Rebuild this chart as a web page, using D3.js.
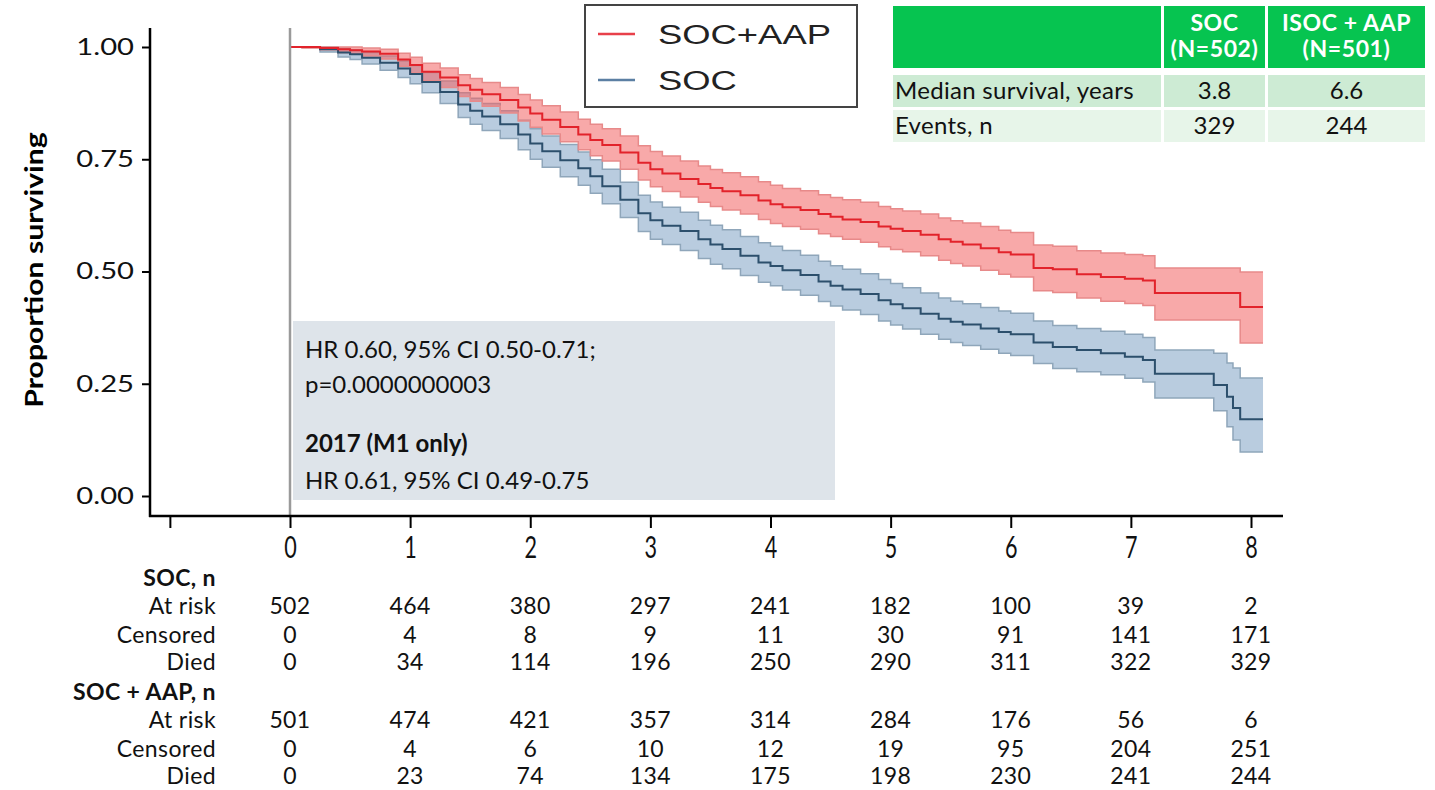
<!DOCTYPE html>
<html>
<head>
<meta charset="utf-8">
<script src="https://cdn.jsdelivr.net/npm/d3@7"></script>
<style>
  body { margin: 0; background: #fff; }
  svg { display: block; font-family: Lato, "Open Sans", sans-serif; }
</style>
</head>
<body>
<svg width="1435" height="790"></svg>
<script>
// time points (years) for the KM step curves
var times = [0, 0.1, 0.25, 0.4, 0.5, 0.6, 0.75, 0.9, 1.0, 1.1, 1.25, 1.4, 1.5, 1.6, 1.75, 1.9,
  2.0, 2.1, 2.25, 2.4, 2.5, 2.6, 2.75, 2.9, 3.0, 3.1, 3.25, 3.4, 3.5, 3.6, 3.75, 3.9,
  4.0, 4.1, 4.25, 4.4, 4.5, 4.6, 4.75, 4.9, 5.0, 5.1, 5.25, 5.4, 5.5, 5.6, 5.75, 5.9,
  6.0, 6.19, 6.35, 6.55, 6.75, 6.95, 7.1, 7.2, 7.5, 7.69, 7.8, 7.85, 7.91, 8.1];

// SOC + AAP
var aapSurv = [1.000, 1.000, 0.998, 0.995, 0.993, 0.990, 0.985, 0.972, 0.960, 0.945, 0.932, 0.915, 0.905, 0.895, 0.882, 0.865,
  0.852, 0.838, 0.822, 0.805, 0.793, 0.782, 0.765, 0.742, 0.728, 0.718, 0.706, 0.695, 0.686, 0.679, 0.670, 0.658,
  0.650, 0.643, 0.637, 0.628, 0.622, 0.616, 0.610, 0.600, 0.595, 0.590, 0.582, 0.572, 0.566, 0.560, 0.552, 0.543,
  0.538, 0.508, 0.505, 0.494, 0.488, 0.484, 0.480, 0.452, 0.452, 0.452, 0.452, 0.452, 0.421, 0.421];
var aapHi = [1.000, 1.000, 1.000, 1.000, 1.000, 0.998, 0.995, 0.986, 0.977, 0.964, 0.953, 0.938, 0.930, 0.921, 0.910, 0.894,
  0.882, 0.869, 0.855, 0.839, 0.828, 0.818, 0.802, 0.780, 0.767, 0.757, 0.746, 0.735, 0.727, 0.720, 0.711, 0.700,
  0.692, 0.685, 0.680, 0.671, 0.665, 0.660, 0.654, 0.645, 0.640, 0.635, 0.628, 0.619, 0.613, 0.608, 0.600, 0.592,
  0.587, 0.559, 0.556, 0.546, 0.541, 0.538, 0.535, 0.508, 0.508, 0.508, 0.508, 0.508, 0.499, 0.499];
var aapLo = [1.000, 0.998, 0.994, 0.988, 0.984, 0.980, 0.973, 0.957, 0.942, 0.925, 0.910, 0.890, 0.879, 0.868, 0.853, 0.835,
  0.821, 0.806, 0.789, 0.771, 0.758, 0.746, 0.728, 0.704, 0.689, 0.678, 0.666, 0.654, 0.645, 0.637, 0.628, 0.616,
  0.607, 0.600, 0.594, 0.584, 0.578, 0.572, 0.565, 0.555, 0.549, 0.544, 0.535, 0.525, 0.518, 0.512, 0.503, 0.494,
  0.488, 0.457, 0.453, 0.441, 0.434, 0.429, 0.424, 0.392, 0.392, 0.392, 0.392, 0.392, 0.341, 0.341];

// SOC
var socSurv = [1.000, 1.000, 0.995, 0.988, 0.984, 0.976, 0.965, 0.952, 0.940, 0.922, 0.900, 0.872, 0.858, 0.845, 0.828, 0.805,
  0.785, 0.768, 0.748, 0.730, 0.712, 0.690, 0.660, 0.630, 0.614, 0.602, 0.590, 0.572, 0.560, 0.550, 0.535, 0.520,
  0.512, 0.503, 0.492, 0.478, 0.468, 0.460, 0.450, 0.436, 0.427, 0.418, 0.406, 0.395, 0.388, 0.382, 0.373, 0.365,
  0.360, 0.342, 0.332, 0.325, 0.318, 0.310, 0.303, 0.272, 0.272, 0.247, 0.221, 0.196, 0.171, 0.171];
var socHi = [1.000, 1.000, 1.000, 0.997, 0.994, 0.988, 0.980, 0.969, 0.959, 0.943, 0.924, 0.898, 0.886, 0.874, 0.858, 0.837,
  0.818, 0.802, 0.783, 0.766, 0.749, 0.728, 0.699, 0.670, 0.655, 0.643, 0.632, 0.614, 0.603, 0.593, 0.578, 0.564,
  0.556, 0.547, 0.536, 0.523, 0.513, 0.505, 0.495, 0.482, 0.473, 0.464, 0.452, 0.441, 0.434, 0.428, 0.420, 0.412,
  0.407, 0.390, 0.380, 0.373, 0.367, 0.360, 0.353, 0.325, 0.325, 0.318, 0.296, 0.285, 0.263, 0.263];
var socLo = [1.000, 0.999, 0.989, 0.978, 0.972, 0.962, 0.948, 0.932, 0.918, 0.898, 0.874, 0.843, 0.828, 0.814, 0.796, 0.771,
  0.750, 0.732, 0.711, 0.692, 0.674, 0.651, 0.620, 0.589, 0.572, 0.560, 0.547, 0.529, 0.516, 0.506, 0.491, 0.476,
  0.468, 0.459, 0.447, 0.433, 0.423, 0.414, 0.404, 0.390, 0.381, 0.372, 0.360, 0.349, 0.342, 0.335, 0.327, 0.318,
  0.313, 0.295, 0.284, 0.277, 0.270, 0.262, 0.254, 0.218, 0.218, 0.190, 0.154, 0.125, 0.098, 0.098];

// numbers at risk table
var tableYears = [0, 1, 2, 3, 4, 5, 6, 7, 8];
var socAtRisk = [502, 464, 380, 297, 241, 182, 100, 39, 2];
var socCensored = [0, 4, 8, 9, 11, 30, 91, 141, 171];
var socDied = [0, 34, 114, 196, 250, 290, 311, 322, 329];
var aapAtRisk = [501, 474, 421, 357, 314, 284, 176, 56, 6];
var aapCensored = [0, 4, 6, 10, 12, 19, 95, 204, 251];
var aapDied = [0, 23, 74, 134, 175, 198, 230, 241, 244];

// summary table (top right)
var sumHeader = ["", "SOC\n(N=502)", "ISOC + AAP\n(N=501)"];
var sumRows = [["Median survival, years", "3.8", "6.6"], ["Events, n", "329", "244"]];

var xTicks = [-1, 0, 1, 2, 3, 4, 5, 6, 7, 8];
var yTicks = [0, 0.25, 0.5, 0.75, 1];

var svg = d3.select("svg");

var x = d3.scaleLinear().domain([0, 8]).range([290, 1251]);
var y = d3.scaleLinear().domain([0, 1]).range([496, 47]);

var aapData = times.map((t, i) => ({t: t, s: aapSurv[i], lo: aapLo[i], hi: aapHi[i]}));
var socData = times.map((t, i) => ({t: t, s: socSurv[i], lo: socLo[i], hi: socHi[i]}));

// text box with hazard ratio
svg.append("rect")
    .attr("x", 293).attr("y", 321)
    .attr("width", 542).attr("height", 179)
    .attr("fill", "#dee4ea");

var box = svg.append("g").style("font-size", "24px").style("fill", "#111");
box.append("text").attr("x", 305).attr("y", 358).text("HR 0.60, 95% CI 0.50-0.71;");
box.append("text").attr("x", 305).attr("y", 393).text("p=0.0000000003");
box.append("text").attr("x", 305).attr("y", 452).style("font-weight", "bold").text("2017 (M1 only)");
box.append("text").attr("x", 305).attr("y", 489).text("HR 0.61, 95% CI 0.49-0.75");

// confidence bands
var band = d3.area()
    .x(d => x(d.t))
    .y0(d => y(d.lo))
    .y1(d => y(d.hi))
    .curve(d3.curveStepAfter);
var edgeLo = d3.line().x(d => x(d.t)).y(d => y(d.lo)).curve(d3.curveStepAfter);
var edgeHi = d3.line().x(d => x(d.t)).y(d => y(d.hi)).curve(d3.curveStepAfter);
var line = d3.line().x(d => x(d.t)).y(d => y(d.s)).curve(d3.curveStepAfter);

var series = [
  {data: socData, fill: "#7fa3c4", edge: "#8fa6ba", color: "#2c4f6c"},
  {data: aapData, fill: "#f26262", edge: "#e78a8a", color: "#e2232b"}
];

series.forEach(s => {
  svg.append("path").datum(s.data)
      .attr("d", band)
      .attr("fill", s.fill)
      .attr("fill-opacity", 0.55);
  svg.append("path").datum(s.data).attr("d", edgeLo)
      .attr("fill", "none").attr("stroke", s.edge).attr("stroke-width", 1.5);
  svg.append("path").datum(s.data).attr("d", edgeHi)
      .attr("fill", "none").attr("stroke", s.edge).attr("stroke-width", 1.5);
});
series.forEach(s => {
  svg.append("path").datum(s.data)
      .attr("d", line)
      .attr("fill", "none")
      .attr("stroke", s.color)
      .attr("stroke-width", 2);
});

// vertical line at time 0
svg.append("line")
    .attr("x1", x(0)).attr("x2", x(0))
    .attr("y1", 28).attr("y2", 516)
    .attr("stroke", "#9a9a9a").attr("stroke-width", 2.5);

// axes
var yAxis = d3.axisLeft(y)
    .tickValues(yTicks)
    .tickFormat(d3.format(".2f"))
    .tickSize(8)
    .tickPadding(8);
var gy = svg.append("g").attr("transform", "translate(150,0)").call(yAxis);
gy.select(".domain").remove();
gy.selectAll("line").attr("stroke", "#000").attr("stroke-width", 2);
gy.selectAll("text")
    .style("font-size", "23px").style("font-family", "Lato, sans-serif").attr("fill", "#111")
    .attr("x", -16 / 1.27)
    .attr("transform", "scale(1.27,1)");

var xAxis = d3.axisBottom(x)
    .tickValues(xTicks)
    .tickFormat(d => d < 0 ? "" : d)
    .tickSize(12)
    .tickPadding(9);
var gx = svg.append("g").attr("transform", "translate(0,516)").call(xAxis);
gx.select(".domain").remove();
gx.selectAll("line").attr("stroke", "#000").attr("stroke-width", 2);
gx.selectAll("text")
    .style("font-size", "30px").style("font-family", "Lato, sans-serif").attr("fill", "#111")
    .attr("transform", "scale(0.72,1)");

svg.append("line").attr("x1", 150).attr("x2", 150).attr("y1", 28).attr("y2", 517)
    .attr("stroke", "#000").attr("stroke-width", 2.5);
svg.append("line").attr("x1", 149).attr("x2", 1283).attr("y1", 516).attr("y2", 516)
    .attr("stroke", "#000").attr("stroke-width", 2.5);

// y title
svg.append("text")
    .attr("transform", "translate(43,270) rotate(-90) scale(1.26,1)")
    .style("text-anchor", "middle")
    .style("font-size", "24px")
    .style("font-weight", "bold")
    .text("Proportion surviving");

// legend
var leg = svg.append("g");
leg.append("rect").attr("x", 585).attr("y", 5).attr("width", 272).attr("height", 102)
    .attr("fill", "#fff").attr("stroke", "#444").attr("stroke-width", 2);
var legItems = [{name: "SOC+AAP", color: "#e8404a"}, {name: "SOC", color: "#5b7fa3"}];
legItems.forEach((d, i) => {
  var ly = 34 + i * 46;
  leg.append("line").attr("x1", 598).attr("x2", 635).attr("y1", ly).attr("y2", ly)
      .attr("stroke", d.color).attr("stroke-width", 2.5);
  leg.append("text")
      .attr("transform", "translate(658," + (ly + 10) + ") scale(1.3,1)")
      .style("font-family", "'Liberation Sans', Arial, sans-serif")
      .style("font-size", "28px").attr("fill", "#222").text(d.name);
});

// summary table
var colX = [893, 1164, 1268];
var colW = [268, 101, 157];
var tb = svg.append("g").style("font-size", "24px");
colX.forEach((cx, i) => {
  tb.append("rect").attr("x", cx).attr("y", 6).attr("width", colW[i]).attr("height", 62).attr("fill", "#06c450");
  var lines = sumHeader[i].split("\n");
  lines.forEach((t, j) => {
    tb.append("text").attr("x", cx + colW[i] / 2).attr("y", 31 + j * 26)
        .style("text-anchor", "middle").style("font-weight", "bold")
        .style("font-size", "23px").style("letter-spacing", "0.6px")
        .attr("fill", "#fff").text(t);
  });
});
var rowY = [75, 110];
var rowFill = ["#cdebd4", "#e7f5e9"];
sumRows.forEach((r, ri) => {
  r.forEach((t, ci) => {
    tb.append("rect").attr("x", colX[ci]).attr("y", rowY[ri]).attr("width", colW[ci]).attr("height", 32)
        .attr("fill", rowFill[ri]);
    tb.append("text")
        .attr("x", ci === 0 ? colX[ci] + 2 : colX[ci] + colW[ci] / 2)
        .attr("y", rowY[ri] + 24)
        .style("text-anchor", ci === 0 ? "start" : "middle")
        .style("letter-spacing", ci === 0 ? "0.3px" : "0px")
        .attr("fill", "#111").text(t);
  });
});

// numbers at risk
var nt = svg.append("g").style("font-size", "23px").attr("fill", "#111");
var groups = [
  {title: "SOC, n", y: 582, rows: [["At risk", socAtRisk], ["Censored", socCensored], ["Died", socDied]]},
  {title: "SOC + AAP, n", y: 696, rows: [["At risk", aapAtRisk], ["Censored", aapCensored], ["Died", aapDied]]}
];
var rowOff = [25, 54, 81];
groups.forEach(g => {
  nt.append("text").attr("x", 216).attr("y", g.y + 4).style("text-anchor", "end")
      .style("font-weight", "bold").style("letter-spacing", "0.4px").text(g.title);
  g.rows.forEach((r, i) => {
    var ry = g.y + rowOff[i] + 7;
    nt.append("text").attr("x", 216).attr("y", ry).style("text-anchor", "end")
        .style("letter-spacing", "0.4px").text(r[0]);
    nt.selectAll(null).data(r[1]).enter().append("text")
        .attr("x", (d, k) => x(tableYears[k]))
        .attr("y", ry)
        .style("text-anchor", "middle")
        .style("letter-spacing", "0.4px")
        .text(d => d);
  });
});
</script>
</body>
</html>
